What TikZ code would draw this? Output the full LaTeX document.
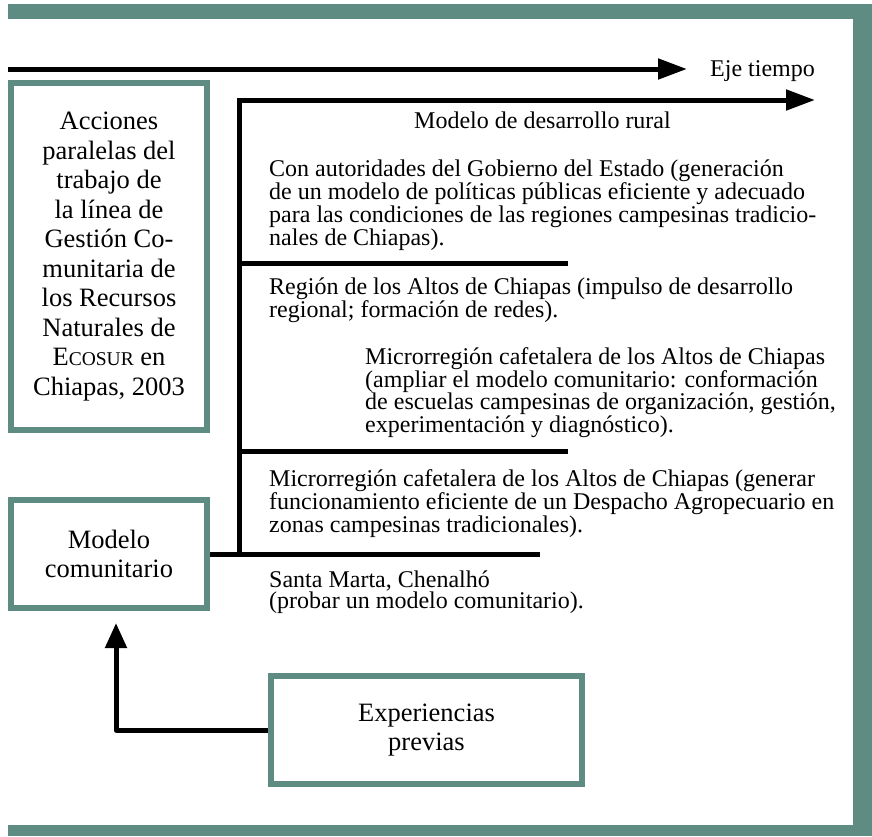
\documentclass[tikz,border=0pt]{standalone}
\usepackage{fontspec}
\setmainfont{Liberation Serif}
\usetikzlibrary{arrows.meta}
\definecolor{frame}{RGB}{95,140,130}
\newcommand{\rtxtfont}{\fontsize{24}{21.8}\selectfont}
\newcommand{\boxtxtfont}{\fontsize{26.5}{29.5}\selectfont}
\begin{document}
\begin{tikzpicture}[x=1pt,y=-1pt,
  box/.style={draw=frame,line width=6pt,inner sep=0pt,align=center,font=\boxtxtfont},
  rtext/.style={anchor=base west,inner sep=0pt,align=left,font=\rtxtfont},
  conn/.style={line width=5pt,draw=black},
  bigtip/.style={-{Triangle[length=29pt,width=20pt]}}]
\useasboundingbox (0,0) rectangle (872,836);
% frame bands
\fill[frame] (8,4) rectangle (872,19);
\fill[frame] (853,4) rectangle (872,836);
\fill[frame] (8,825) rectangle (872,836);
% boxes
\node[box,minimum width=196pt,minimum height=347pt] (acc) at (109,256.5)
  {Acciones\\paralelas del\\trabajo de\\la línea de\\Gestión Co-\\munitaria de\\los Recursos\\Naturales de\\E{\fontsize{19.5}{29.5}\selectfont COSUR} en\\Chiapas, 2003};
\node[box,minimum width=196pt,minimum height=108pt] (com) at (109,554) {Modelo\\comunitario};
\node[box,minimum width=311pt,minimum height=108pt] (exp) at (426.5,730) {Experiencias\\previas};
% time axis
\coordinate (ta) at (8,69);
\coordinate (tb) at (687,69);
\draw[conn,bigtip] (ta) -- (tb);
\node[rtext] (eje) at (710,76) {Eje tiempo};
% main model line
\coordinate (vb) at (239,556);
\coordinate (vt) at (239,100);
\coordinate (mr) at (815,100);
\draw[conn,bigtip] (vb) -- (vt) -- (mr);
% branches
\coordinate (b1s) at (239,263);
\coordinate (b1e) at (568,263);
\coordinate (b2s) at (239,451);
\coordinate (b2e) at (568,451);
\coordinate (b3e) at (540,554);
\draw[conn] (b1s) -- (b1e);
\draw[conn] (b2s) -- (b2e);
\draw[conn] (com.east |- b3e) -- (b3e);
% experiences arrow
\coordinate (et) at (116,623);
\draw[conn,line join=round,-{Triangle[length=25pt,width=21pt]}] (exp.west |- 0,730) -| (et);
% texts (base anchor = baseline of the last line)
\node[rtext] (mdr) at (414,128) {Modelo de desarrollo rural};
\node[rtext] (txa) at (269,245.4) {Con autoridades del Gobierno del Estado (generación\\de un modelo de políticas públicas eficiente y adecuado\\para las condiciones de las regiones campesinas tradicio-\\nales de Chiapas).};
\node[rtext] (txb) at (269,317.8) {Región de los Altos de Chiapas (impulso de desarrollo\\regional; formación de redes).};
\node[rtext] (txc) at (365,432.4) {Microrregión cafetalera de los Altos de Chiapas\\(ampliar el modelo comunitario: conformación\\de escuelas campesinas de organización, gestión,\\experimentación y diagnóstico).};
\node[rtext] (txd) at (269,532.6) {Microrregión cafetalera de los Altos de Chiapas (generar\\funcionamiento eficiente de un Despacho Agropecuario en\\zonas campesinas tradicionales).};
\node[rtext] (txe) at (269,608.8) {Santa Marta, Chenalhó\\(probar un modelo comunitario).};
\end{tikzpicture}
\end{document}
